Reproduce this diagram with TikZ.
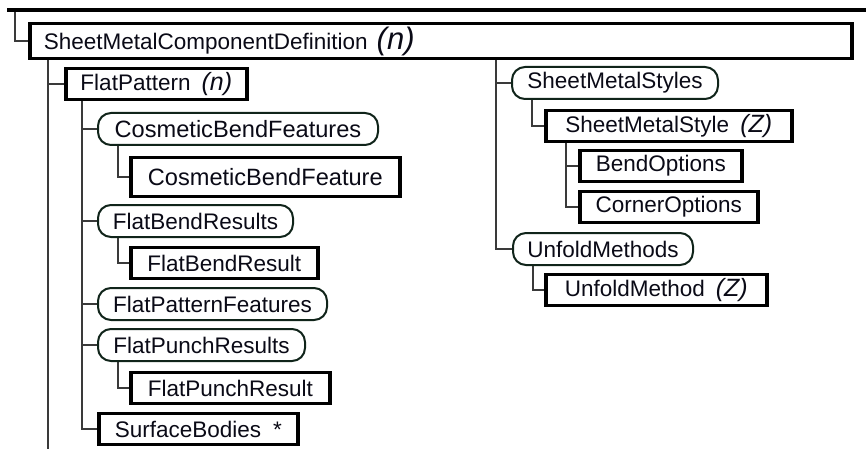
\documentclass[tikz,border=0pt]{standalone}
\usepackage{fontspec}
\setmainfont{Liberation Sans}
\usepackage{tikz}
\usetikzlibrary{positioning,calc,backgrounds}
\definecolor{ink}  {HTML}{0A0A16}
\definecolor{wire} {HTML}{3A3A3A}
\definecolor{rim}  {HTML}{10241A}
\tikzset{
  every node/.style={font=\fontsize{22.5}{27}\selectfont, text=ink},
  % --- nodes
  elem/.style = {draw=black, line width=3.6pt, fill=white, anchor=west,
                 inner xsep=8pt, inner ysep=0pt, minimum height=31pt},
  grp/.style  = {draw=rim, line width=2pt, fill=white, anchor=west,
                 rounded corners=13pt, inner xsep=8pt, inner ysep=0pt,
                 minimum height=32pt},
  big/.style  = {font=\fontsize{23.6}{28}\selectfont},
  % --- edges
  link/.style = {draw=wire, line width=1.2pt},
}
\newcommand{\mult}[1]{\hspace{11pt}{\fontsize{25}{25}\selectfont\itshape(#1)}}

\begin{document}
\begin{tikzpicture}[x=1pt,y=-1pt]
  \useasboundingbox (0,0) rectangle (866,449);

  % header rule of the parent element
  \draw[line width=3.4pt] (7,10) -- (866,10);
  \coordinate (root) at (15,10);
  \coordinate (tail) at (48,449);

  \node[elem, minimum height=35pt, text width=794pt, inner xsep=14pt] (smcd) at (28,41)
    {SheetMetalComponentDefinition\hspace{9pt}{\fontsize{31}{31}\selectfont\itshape(n)}};

  % FlatPattern branch
  \node[elem, minimum width=181pt] (fp)   at (64,84)   {FlatPattern\mult{n}};
  \node[grp, big, minimum width=280pt] (cbfs) at (97,129)  {CosmeticBendFeatures};
  \node[elem, big, minimum width=269pt, minimum height=39pt] (cbf) at (129,177) {CosmeticBendFeature};
  \node[grp, minimum width=195pt]  (fbrs) at (97,221)  {FlatBendResults};
  \node[elem, minimum width=187pt] (fbr)  at (129,263) {FlatBendResult};
  \node[grp, minimum width=229pt]  (fpf)  at (97,304)  {FlatPatternFeatures};
  \node[grp, minimum width=207pt]  (fprs) at (97,345)  {FlatPunchResults};
  \node[elem, minimum width=199pt] (fpr)  at (129,388) {FlatPunchResult};
  \node[elem, minimum width=199pt] (sb)   at (97,429)  {SurfaceBodies\hspace{12pt}*};

  % SheetMetalStyles / UnfoldMethods branch
  \node[grp, minimum width=206pt]  (sms)  at (511,83)  {SheetMetalStyles};
  \node[elem, minimum width=246pt] (smst) at (544,126) {SheetMetalStyle\mult{Z}};
  \node[elem, minimum width=162pt] (bo)   at (578,166) {BendOptions};
  \node[elem, minimum width=178pt] (co)   at (578,207) {CornerOptions};
  \node[grp, minimum width=180pt]  (ums)  at (512,249) {UnfoldMethods};
  \node[elem, minimum width=221pt] (um)   at (544,290) {UnfoldMethod\mult{Z}};

  \begin{scope}[on background layer]
    \draw[link] (root) |- (smcd.west);
    \draw[link] ($(smcd.south west)+(20,0)$) -- (tail);
    \draw[link] ($(smcd.south west)+(20,0)$) |- (fp.west);
    \draw[link] ($(smcd.south west)+(468,0)$) |- (sms.west);
    \draw[link] ($(smcd.south west)+(468,0)$) |- (ums.west);

    % children of FlatPattern
    \draw[link] ($(fp.south west)+(18,0)$) |- (cbfs.west);
    \draw[link] ($(fp.south west)+(18,0)$) |- (fbrs.west);
    \draw[link] ($(fp.south west)+(18,0)$) |- (fpf.west);
    \draw[link] ($(fp.south west)+(18,0)$) |- (fprs.west);
    \draw[link] ($(fp.south west)+(18,0)$) |- (sb.west);
    \draw[link] ($(cbfs.south west)+(21,0)$) |- (cbf.west);
    \draw[link] ($(fbrs.south west)+(21,0)$) |- (fbr.west);
    \draw[link] ($(fprs.south west)+(21,0)$) |- (fpr.west);

    % children on the right
    \draw[link] ($(sms.south west)+(21,0)$) |- (smst.west);
    \draw[link] ($(smst.south west)+(22,0)$) |- (bo.west);
    \draw[link] ($(smst.south west)+(22,0)$) |- (co.west);
    \draw[link] ($(ums.south west)+(21,0)$) |- (um.west);
  \end{scope}
\end{tikzpicture}
\end{document}
